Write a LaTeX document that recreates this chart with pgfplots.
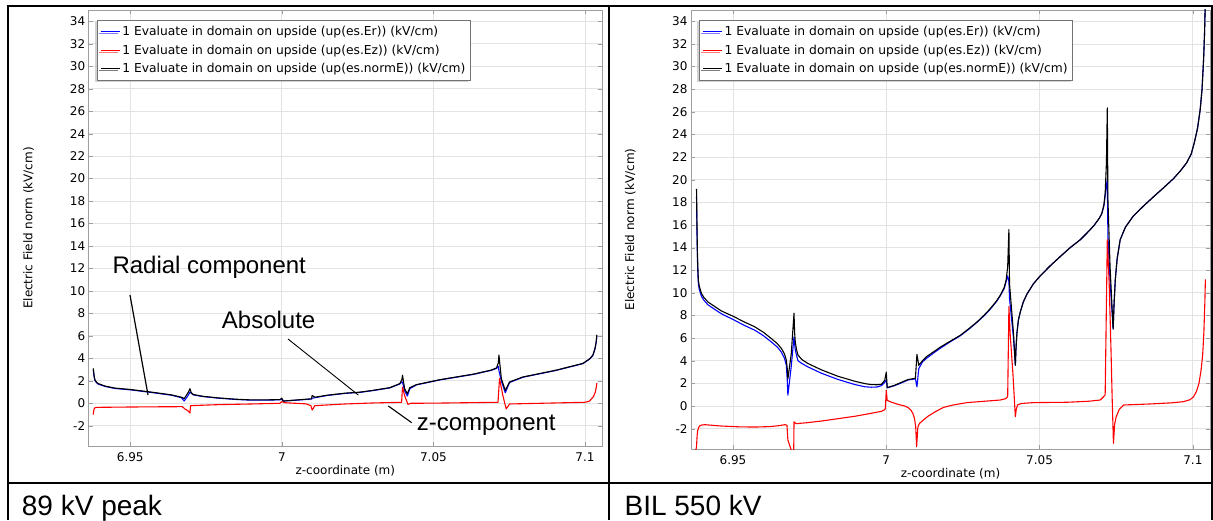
\documentclass[border=0pt]{standalone}
\usepackage{fontspec}
\setmainfont{DejaVu Sans}
\newfontfamily\annot{Liberation Sans}
\usepackage{pgfplots}
\pgfplotsset{compat=1.18}
\usetikzlibrary{shadows}

\colorlet{gridc}{black!11}
\colorlet{framec}{black!38}

\pgfplotsset{
  comsol/.style={
    scale only axis,
    xmin=6.9363, xmax=7.1056, ymin=-3.8, ymax=35,
    xtick={6.95,7,7.05,7.1}, xticklabels={6.95,7,7.05,7.1},
    ytick={-2,0,...,34},
    grid=major, major grid style={gridc, line width=0.8pt},
    axis line style={framec, line width=0.8pt},
    tick style={framec}, major tick length=4pt, tick align=inside,
    /pgf/number format/assume math mode=true,
    tick label style={font=\fontsize{12}{14}\selectfont},
    xticklabel style={yshift=-3pt},
    label style={font=\fontsize{12}{14}\selectfont},
    xlabel={z-coordinate (m)}, ylabel={Electric Field norm (kV/cm)},
    xlabel style={at={(axis description cs:0.5,0)}, anchor=center, yshift=-24.5pt},
    ylabel style={at={(axis description cs:-0.117,0.5)}, anchor=center},
    legend cell align=left,
    legend style={at={(axis description cs:0,1)}, anchor=north west,
      xshift=8pt, yshift=-10pt, draw=black!55, line width=0.8pt, fill=white,
      font=\fontsize{12.3}{14.5}\selectfont, inner xsep=3pt, inner ysep=4pt,
      row sep=3.6pt,
      drop shadow={shadow xshift=-2pt, shadow yshift=-2pt, fill=black!35}},
    legend image code/.code={\draw[#1, line width=1.3pt] (0pt,0pt) -- (19pt,0pt);},
    every axis plot/.append style={line width=1.1pt, line join=round},
  }
}

\begin{document}
\begin{tikzpicture}[x=1pt, y=1pt]
\path[use as bounding box] (0,0) rectangle (1213,520);

% 89 kV peak
\begin{axis}[comsol, at={(88.7pt,74pt)}, anchor=south west, width=513.3pt, height=436pt]
\addplot[blue] coordinates {
(6.9378,3.0) (6.9381,2.35) (6.9384,2.0) (6.9390,1.8) (6.9395,1.7) (6.9417,1.5)
(6.9450,1.32) (6.9500,1.2) (6.9571,0.96) (6.9636,0.72) (6.9669,0.5) (6.9678,0.2)
(6.9691,0.7) (6.9697,1.0) (6.9701,0.9) (6.9708,0.75) (6.9740,0.6) (6.9790,0.46)
(6.9850,0.34) (6.9900,0.28) (6.9960,0.29) (6.9993,0.31) (7.0000,0.38) (7.0005,0.2)
(7.0050,0.28) (7.0098,0.38) (7.0100,0.45) (7.0109,0.5) (7.0150,0.7) (7.0208,0.88)
(7.0257,0.97) (7.0300,1.13) (7.0356,1.37) (7.0389,1.72) (7.0396,1.9) (7.0398,1.9)
(7.0405,1.1) (7.0414,0.65) (7.0422,1.3) (7.0444,1.64) (7.0521,2.08) (7.0631,2.57)
(7.0690,2.93) (7.0708,3.1) (7.0714,3.3) (7.0716,2.9) (7.0724,2.0) (7.0737,0.95)
(7.0751,1.85) (7.0795,2.32) (7.0905,2.93) (7.0993,3.53) (7.1015,3.93) (7.1026,4.25)
(7.1033,4.85) (7.1037,5.45) (7.1039,6.0)
};
\addlegendentry{1 Evaluate in domain on upside (up(es.Er)) (kV/cm)}
\addplot[red] coordinates {
(6.9378,-1.0) (6.9380,-0.6) (6.9382,-0.42) (6.9390,-0.36) (6.9500,-0.33) (6.9600,-0.31)
(6.9672,-0.3) (6.9680,-0.5) (6.9690,-0.65) (6.9697,-0.87) (6.9699,-0.21) (6.9790,-0.12)
(6.9900,-0.06) (6.9993,0.0) (7.0000,0.15) (7.0011,0.05) (7.0080,-0.05) (7.0096,-0.21)
(7.0100,-0.6) (7.0109,-0.21) (7.0208,-0.06) (7.0301,0.03) (7.0395,0.09) (7.0398,1.44)
(7.0405,0.69) (7.0416,-0.1) (7.0425,0.0) (7.0521,0.02) (7.0713,0.09) (7.0718,2.2)
(7.0729,0.69) (7.0740,-0.5) (7.0751,-0.06) (7.0850,0.0) (7.1000,0.09) (7.1015,0.2)
(7.1028,0.6) (7.1034,1.0) (7.1037,1.4) (7.1039,1.8)
};
\addlegendentry{1 Evaluate in domain on upside (up(es.Ez)) (kV/cm)}
\addplot[black] coordinates {
(6.9378,3.1) (6.9381,2.4) (6.9384,2.05) (6.9390,1.85) (6.9395,1.75) (6.9417,1.53)
(6.9450,1.35) (6.9500,1.23) (6.9571,0.99) (6.9636,0.75) (6.9669,0.54) (6.9678,0.42)
(6.9691,0.95) (6.9697,1.3) (6.9701,0.95) (6.9708,0.78) (6.9740,0.62) (6.9790,0.48)
(6.9850,0.36) (6.9900,0.3) (6.9960,0.31) (6.9993,0.33) (7.0000,0.45) (7.0005,0.2)
(7.0050,0.3) (7.0098,0.4) (7.0100,0.7) (7.0109,0.54) (7.0150,0.72) (7.0208,0.9)
(7.0257,0.99) (7.0300,1.15) (7.0356,1.39) (7.0389,1.75) (7.0396,2.1) (7.0398,2.5)
(7.0405,1.3) (7.0414,0.85) (7.0422,1.39) (7.0444,1.66) (7.0521,2.1) (7.0631,2.59)
(7.0690,2.95) (7.0708,3.15) (7.0714,3.6) (7.0716,4.3) (7.0724,2.2) (7.0737,1.14)
(7.0751,1.9) (7.0795,2.34) (7.0905,2.95) (7.0993,3.55) (7.1015,3.95) (7.1026,4.3)
(7.1033,4.9) (7.1037,5.5) (7.1039,6.1)
};
\addlegendentry{1 Evaluate in domain on upside (up(es.normE)) (kV/cm)}
\end{axis}

% BIL 550 kV
\begin{axis}[comsol, at={(691pt,71pt)}, anchor=south west, width=519pt, height=439pt]
\addplot[blue] coordinates {
(6.9381,18.5) (6.9382,16.4) (6.9383,14.5) (6.9384,13.0) (6.9385,12.0) (6.9387,10.8)
(6.9390,10.3) (6.9397,9.7) (6.9405,9.35) (6.9418,8.95) (6.9440,8.55) (6.9462,8.15)
(6.9500,7.65) (6.9535,7.15) (6.9571,6.7) (6.9600,6.2) (6.9625,5.66) (6.9645,5.2)
(6.9658,4.75) (6.9668,4.2) (6.9674,3.6) (6.9677,2.3) (6.9679,0.95) (6.9690,3.5)
(6.9699,6.1) (6.9701,5.5) (6.9703,5.0) (6.9707,4.5) (6.9712,4.0) (6.9725,3.75)
(6.9745,3.45) (6.9788,2.9) (6.9842,2.35) (6.9897,1.9) (6.9930,1.7) (6.9951,1.66)
(6.9970,1.68) (6.9984,1.8) (6.9995,2.1) (7.0000,2.3) (7.0003,1.6) (7.0027,1.8)
(7.0050,2.05) (7.0071,2.3) (7.0095,2.4) (7.0100,1.7) (7.0106,3.3) (7.0118,3.9)
(7.0133,4.25) (7.0155,4.7) (7.0176,5.1) (7.0210,5.7) (7.0241,6.2) (7.0270,6.8)
(7.0296,7.4) (7.0320,8.0) (7.0339,8.55) (7.0360,9.25) (7.0372,9.75) (7.0385,10.4)
(7.0391,11.0) (7.0396,11.5) (7.0400,11.0) (7.0402,9.5) (7.0415,6.0) (7.0421,3.6)
(7.0423,5.0) (7.0426,6.4) (7.0431,7.6) (7.0437,8.3) (7.0447,9.2) (7.0459,9.9)
(7.0480,10.8) (7.0502,11.5) (7.0535,12.4) (7.0567,13.2) (7.0600,14.0) (7.0633,14.7)
(7.0655,15.3) (7.0676,15.9) (7.0695,16.6) (7.0703,17.0) (7.0710,17.7) (7.0714,18.6)
(7.0718,19.5) (7.0721,20.0) (7.0723,15.0) (7.0730,11.0) (7.0740,6.8) (7.0743,9.0)
(7.0747,11.15) (7.0753,13.0) (7.0763,14.7) (7.0780,15.8) (7.0806,16.8) (7.0840,17.7)
(7.0872,18.5) (7.0905,19.3) (7.0937,20.1) (7.0960,20.8) (7.0980,21.5) (7.0995,22.3)
(7.1005,23.3) (7.1015,24.5) (7.1024,26.2) (7.1030,28.0) (7.1035,30.6) (7.1038,32.8)
(7.1041,36.0)
};
\addlegendentry{1 Evaluate in domain on upside (up(es.Er)) (kV/cm)}
\addplot[red] coordinates {
(6.9378,-4.0) (6.9381,-3.6) (6.9383,-2.6) (6.9385,-2.15) (6.9388,-1.9) (6.9391,-1.77)
(6.9398,-1.68) (6.9408,-1.65) (6.9430,-1.7) (6.9462,-1.77) (6.9520,-1.84) (6.9571,-1.86)
(6.9620,-1.82) (6.9650,-1.74) (6.9669,-1.65) (6.9676,-1.7) (6.9679,-3.0) (6.9690,-3.9)
(6.9698,-4.2) (6.9699,-1.4) (6.9706,-1.56) (6.9740,-1.48) (6.9788,-1.33) (6.9840,-1.13)
(6.9897,-0.91) (6.9950,-0.65) (6.9984,-0.47) (6.9993,-0.35) (6.9997,-0.23) (7.0000,1.39)
(7.0003,0.5) (7.0015,0.35) (7.0038,0.15) (7.0060,0.0) (7.0071,-0.14) (7.0080,-0.35)
(7.0087,-0.67) (7.0092,-1.1) (7.0096,-1.86) (7.0099,-3.6) (7.0103,-1.86) (7.0108,-1.55)
(7.0114,-1.4) (7.0125,-1.15) (7.0136,-0.91) (7.0160,-0.5) (7.0187,-0.12) (7.0220,0.1)
(7.0263,0.3) (7.0320,0.42) (7.0372,0.53) (7.0390,0.65) (7.0396,0.83) (7.0400,8.8)
(7.0404,6.4) (7.0413,2.9) (7.0421,-0.95) (7.0424,-0.3) (7.0428,0.09) (7.0440,0.22)
(7.0480,0.3) (7.0589,0.33) (7.0660,0.42) (7.0698,0.53) (7.0714,0.97) (7.0721,14.7)
(7.0727,10.9) (7.0733,5.0) (7.0737,0.53) (7.0741,-3.3) (7.0745,-1.6) (7.0750,-0.95)
(7.0760,-0.3) (7.0774,0.09) (7.0861,0.18) (7.0930,0.28) (7.0969,0.38) (7.0990,0.55)
(7.1002,0.8) (7.1012,1.3) (7.1020,2.0) (7.1027,3.2) (7.1032,4.5) (7.1036,6.5)
(7.1039,9.0) (7.1041,11.2)
};
\addlegendentry{1 Evaluate in domain on upside (up(es.Ez)) (kV/cm)}
\addplot[black] coordinates {
(6.9381,19.2) (6.9382,17.0) (6.9383,15.0) (6.9384,13.5) (6.9385,12.5) (6.9387,11.1)
(6.9390,10.6) (6.9397,9.95) (6.9405,9.6) (6.9418,9.2) (6.9440,8.8) (6.9462,8.4)
(6.9500,7.94) (6.9535,7.45) (6.9571,7.0) (6.9600,6.5) (6.9625,5.96) (6.9645,5.5)
(6.9658,5.08) (6.9668,4.6) (6.9674,4.04) (6.9677,3.3) (6.9679,2.4) (6.9690,4.6)
(6.9699,8.2) (6.9701,6.5) (6.9703,5.7) (6.9707,5.0) (6.9712,4.5) (6.9725,4.1)
(6.9745,3.75) (6.9788,3.2) (6.9842,2.63) (6.9897,2.19) (6.9930,1.98) (6.9951,1.89)
(6.9970,1.88) (6.9984,1.92) (6.9995,2.27) (7.0000,3.0) (7.0003,1.63) (7.0027,1.83)
(7.0050,2.1) (7.0071,2.34) (7.0095,2.45) (7.0100,4.57) (7.0106,3.6) (7.0118,4.0)
(7.0133,4.4) (7.0155,4.8) (7.0176,5.2) (7.0210,5.75) (7.0241,6.24) (7.0270,6.85)
(7.0296,7.43) (7.0320,8.05) (7.0339,8.6) (7.0360,9.3) (7.0372,9.8) (7.0385,10.5)
(7.0391,11.15) (7.0396,12.3) (7.0400,15.6) (7.0402,10.8) (7.0415,6.42) (7.0421,3.6)
(7.0423,5.0) (7.0426,6.4) (7.0431,7.6) (7.0437,8.3) (7.0447,9.2) (7.0459,9.9)
(7.0480,10.8) (7.0502,11.5) (7.0535,12.4) (7.0567,13.2) (7.0600,14.0) (7.0633,14.7)
(7.0655,15.3) (7.0676,15.9) (7.0695,16.6) (7.0703,17.0) (7.0710,17.8) (7.0714,18.8)
(7.0718,21.4) (7.0721,26.35) (7.0723,18.2) (7.0730,12.3) (7.0740,6.8) (7.0743,9.0)
(7.0747,11.15) (7.0753,13.0) (7.0763,14.7) (7.0780,15.8) (7.0806,16.8) (7.0840,17.7)
(7.0872,18.5) (7.0905,19.3) (7.0937,20.1) (7.0960,20.8) (7.0980,21.5) (7.0995,22.3)
(7.1005,23.3) (7.1015,24.5) (7.1024,26.2) (7.1030,28.0) (7.1035,30.6) (7.1038,32.8)
(7.1041,36.0)
};
\addlegendentry{1 Evaluate in domain on upside (up(es.normE)) (kV/cm)}
\end{axis}

% annotations on the left chart
\draw[line width=1.2pt] (130,225) -- (148,125);
\draw[line width=0.9pt] (288,181) -- (358.3,125);
\draw[line width=1.1pt] (388.3,114) -- (411.7,97.3);
\node[font=\annot\fontsize{24}{28}\selectfont, anchor=base west, inner sep=0pt] at (112.3,246.7) {Radial component};
\node[font=\annot\fontsize{24}{28}\selectfont, anchor=base west, inner sep=0pt] at (221.7,191.7) {Absolute};
\node[font=\annot\fontsize{24}{28}\selectfont, anchor=base west, inner sep=0pt] at (416.7,89.5) {z-component};

% table rules and captions
\draw[line width=2pt] (7.5,0) -- (7.5,514) -- (1211.8,514) -- (1211.8,0);
\draw[line width=2pt] (608.5,0) -- (608.5,514);
\draw[line width=2pt] (7.5,37) -- (1211.8,37);
\node[font=\annot\fontsize{28}{32}\selectfont, anchor=base west, inner sep=0pt] at (21.7,5) {89 kV peak};
\node[font=\annot\fontsize{28}{32}\selectfont, anchor=base west, inner sep=0pt] at (624.4,5) {BIL 550 kV};
\end{tikzpicture}
\end{document}
